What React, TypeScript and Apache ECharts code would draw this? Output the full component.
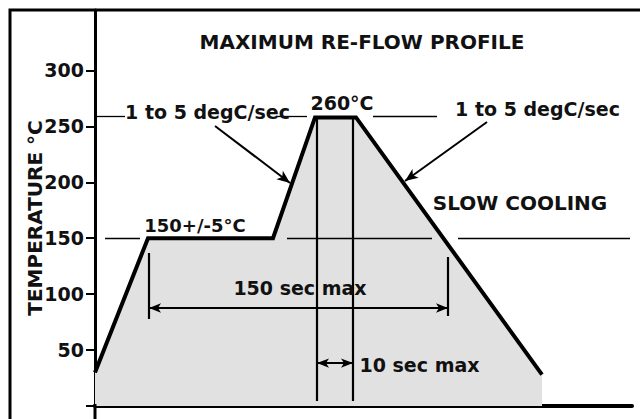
import React, { useEffect, useRef } from "react";
import * as echarts from "echarts";

// Y axis ticks / labels (°C)
const yTickValues = [0, 50, 100, 150, 200, 250, 300];
const yLabelValues = [50, 100, 150, 200, 250, 300];

// Re-flow profile: time (s, schematic) vs temperature (°C)
const profileTime = [0, 26.5, 89, 110, 130.5, 223.5];
const profileTemp = [30, 150, 150, 258, 258, 28];

// Horizontal reference lines: [xStart, xEnd] segments at a temperature
const ref260Temp = 259;
const ref260Segments = [
  [0, 15],
  [91, 106],
  [139, 171],
  [213.5, 272.5],
];
const ref150Temp = 150;
const ref150Segments = [
  [5, 22.5],
  [96, 168.5],
  [181.5, 267.5],
];

// Dimension verticals: [x, tempTop, tempBottom]
const dimVerticals = [
  [27, 136.8, 77.8],
  [176.5, 133.2, 80.5],
  [111, 257.5, 4.5],
  [129, 257.5, 4.5],
];
// Double-headed dimension arrows: [xStart, xEnd, temp]
const dimArrows = [
  [27, 176.5, 87.6],
  [111, 129, 38.4],
];
// Slope pointer arrows: [x1, t1, x2, t2]
const slopeArrows = [
  [60, 250.3, 97.5, 199.4],
  [196, 253.9, 155, 201.1],
];

// Annotation texts and their anchors (data units)
const annotationTexts = [
  "1 to 5 degC/sec",
  "260°C",
  "1 to 5 degC/sec",
  "SLOW COOLING",
  "150+/-5°C",
  "150 sec max",
  "10 sec max",
];
const annotationTime = [56.25, 123.5, 221.25, 212.5, 50, 102.5, 162.25];
const annotationTemp = [262.8, 270.9, 265.5, 181.5, 161.8, 105.5, 36.7];

const titleText = "MAXIMUM RE-FLOW PROFILE";
const yAxisTitle = "TEMPERATURE °C";

const FONT = "'DejaVu Sans', 'Liberation Sans', Arial, sans-serif";
const INK = "#111111";

export default function App() {
  const ref = useRef<HTMLDivElement>(null);

  useEffect(() => {
    if (!ref.current) return;
    const chart = echarts.init(ref.current, null, { renderer: "svg" });

    const thin = { color: "#000", width: 1.3, type: "solid" as const };
    const medium = { color: "#000", width: 2.2, type: "solid" as const };
    const arrowStyle = { color: "#000", width: 1.8, type: "solid" as const };
    const slopeStyle = { color: "#000", width: 2, type: "solid" as const };
    const markLineData: any[] = [];
    ref260Segments.forEach(([a, b]) =>
      markLineData.push([
        { coord: [a, ref260Temp], symbol: "none", lineStyle: thin },
        { coord: [b, ref260Temp], symbol: "none" },
      ])
    );
    ref150Segments.forEach(([a, b]) =>
      markLineData.push([
        { coord: [a, ref150Temp], symbol: "none", lineStyle: thin },
        { coord: [b, ref150Temp], symbol: "none" },
      ])
    );
    dimVerticals.forEach(([x, t1, t2]) =>
      markLineData.push([
        { coord: [x, t1], symbol: "none", lineStyle: medium },
        { coord: [x, t2], symbol: "none" },
      ])
    );
    dimArrows.forEach(([a, b, t]) =>
      markLineData.push([
        { coord: [a, t], symbol: "arrow", symbolSize: [7, 12], lineStyle: arrowStyle },
        { coord: [b, t], symbol: "arrow", symbolSize: [7, 12] },
      ])
    );
    slopeArrows.forEach(([x1, t1, x2, t2]) =>
      markLineData.push([
        { coord: [x1, t1], symbol: "none", lineStyle: slopeStyle },
        { coord: [x2, t2], symbol: "arrow", symbolSize: [8, 13] },
      ])
    );

    const fontSizes: Record<string, number> = {
      "SLOW COOLING": 20,
      "150+/-5°C": 18,
    };

    const option: any = {
      animation: false,
      backgroundColor: "#ffffff",
      grid: { left: 95, right: 8, top: 10, bottom: 13 },
      xAxis: {
        type: "value",
        min: 0,
        max: 268.5,
        axisLine: { show: true, lineStyle: { color: "#000", width: 4 } },
        axisTick: { show: false },
        axisLabel: { show: false },
        splitLine: { show: false },
      },
      yAxis: {
        type: "value",
        min: 0,
        max: 354,
        interval: 50,
        axisLine: { show: true, onZero: false, lineStyle: { color: "#000", width: 3 } },
        axisTick: {
          show: true,
          length: 9,
          customValues: yTickValues,
          lineStyle: { color: "#000", width: 2 },
        },
        axisLabel: {
          show: true,
          margin: 11,
          customValues: yLabelValues,
          fontSize: 19,
          fontWeight: "bold",
          fontFamily: FONT,
          color: INK,
        },
        splitLine: { show: false },
      },
      series: [
        {
          name: "Profile",
          type: "line",
          data: profileTime.map((t, i) => [t, profileTemp[i]]),
          symbol: "none",
          clip: false,
          z: 3,
          lineStyle: { color: "#000", width: 4, join: "miter" },
          areaStyle: { color: "#e1e1e1", opacity: 1 },
          markLine: {
            silent: true,
            animation: false,
            label: { show: false },
            lineStyle: { color: "#000", type: "solid", width: 1.3 },
            emphasis: { disabled: true },
            data: markLineData,
          },
        },
        {
          name: "Annotations",
          type: "scatter",
          symbolSize: 1,
          z: 5,
          silent: true,
          itemStyle: { color: "rgba(0,0,0,0)", opacity: 1 },
          data: annotationTexts.map((txt, i) => ({
            name: txt,
            value: [annotationTime[i], annotationTemp[i]],
            label: {
              show: true,
              position: "inside",
              formatter: txt,
              fontSize: fontSizes[txt] || 19,
              fontWeight: "bold",
              fontFamily: FONT,
              color: INK,
              opacity: 1,
            },
          })),
        },
      ],
      graphic: [
        {
          type: "polyline",
          shape: { points: [[10, 419], [10, 10], [641, 10]] },
          style: { stroke: "#000", lineWidth: 3, fill: "none" },
          z: 10,
        },
        {
          type: "line",
          shape: { x1: 95, y1: 404, x2: 95, y2: 419 },
          style: { stroke: "#000", lineWidth: 3 },
          z: 10,
        },
        {
          type: "text",
          x: 362,
          y: 42,
          style: {
            text: titleText,
            fontSize: 20,
            fontWeight: "bold",
            fontFamily: FONT,
            fill: INK,
            textAlign: "center",
            textVerticalAlign: "middle",
          },
          z: 10,
        },
        {
          type: "text",
          x: 35,
          y: 218,
          rotation: Math.PI / 2,
          style: {
            text: yAxisTitle,
            fontSize: 20,
            fontWeight: "bold",
            fontFamily: FONT,
            fill: INK,
            textAlign: "center",
            textVerticalAlign: "middle",
          },
          z: 10,
        },
      ],
    };

    chart.setOption(option);
    return () => chart.dispose();
  }, []);

  return (
    <div
      ref={ref}
      style={{ position: "fixed", left: 0, top: 0, width: 640, height: 419, background: "#fff" }}
    />
  );
}
